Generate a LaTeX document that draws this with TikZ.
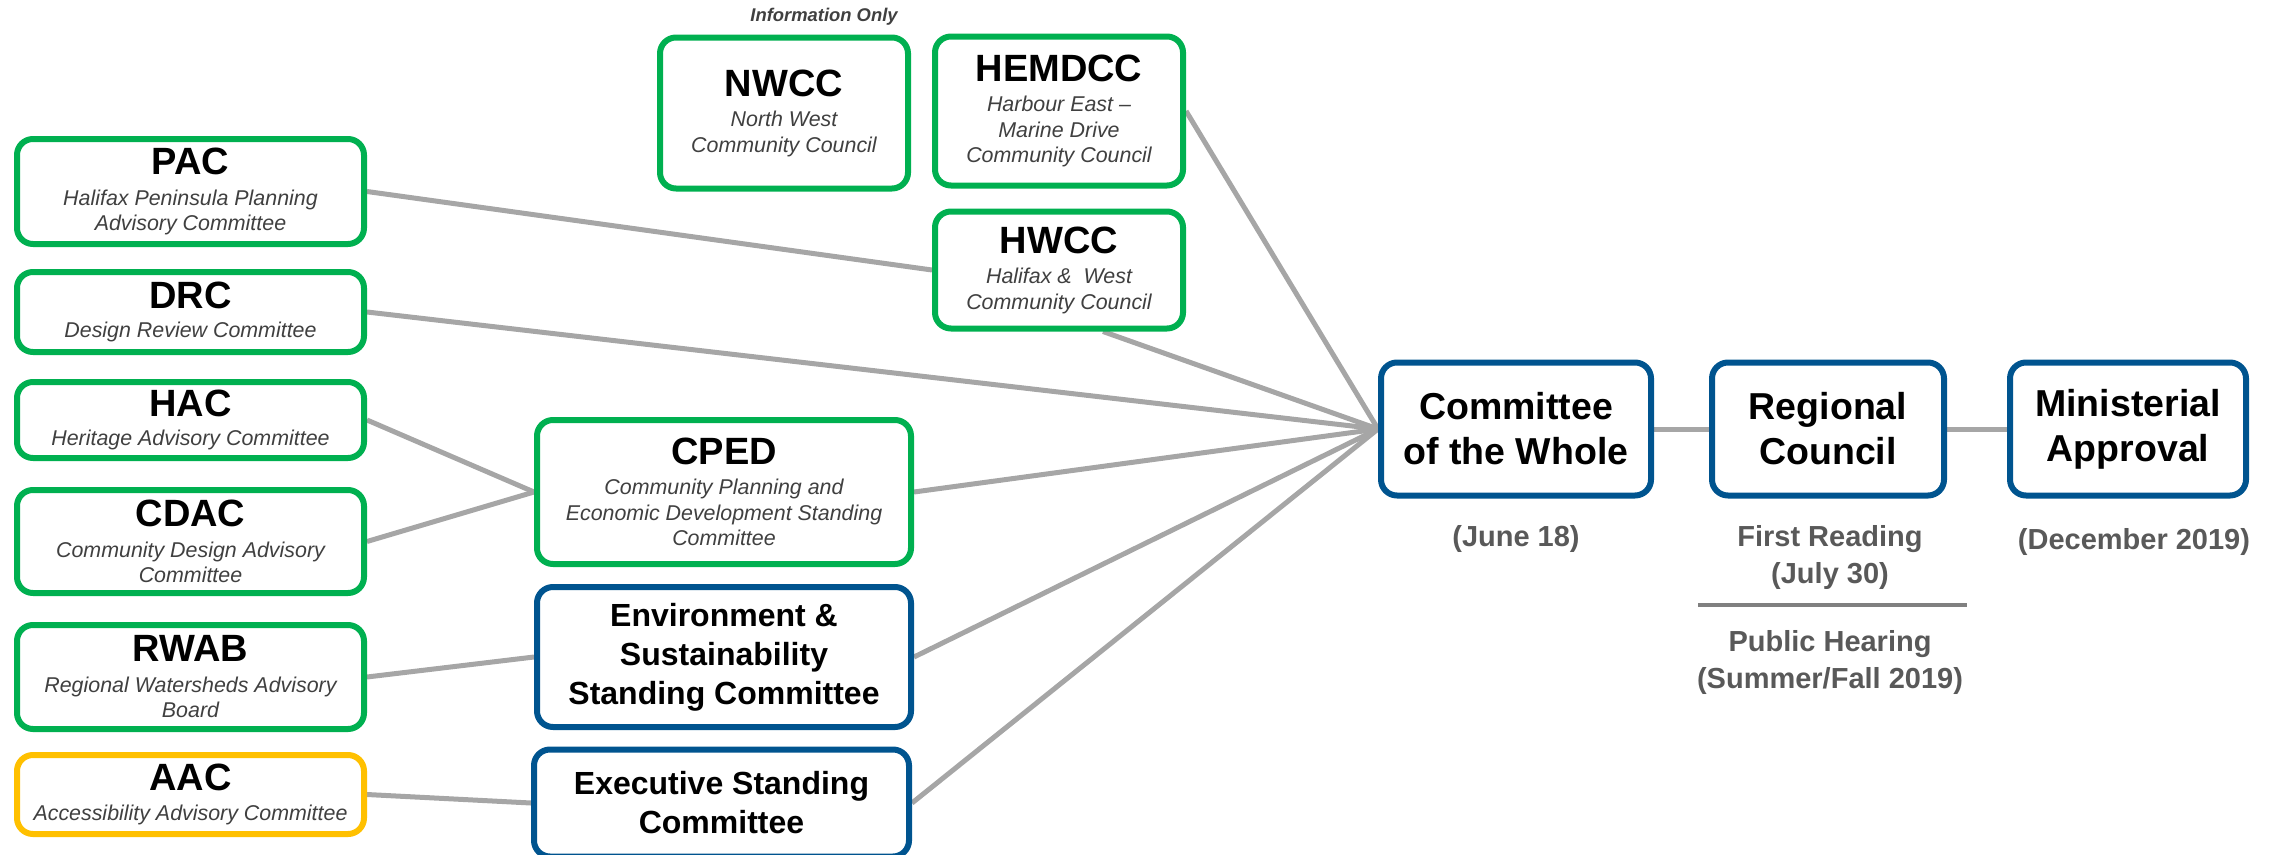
\documentclass[tikz,border=0pt]{standalone}
\usepackage{fontspec}
\setmainfont{Liberation Sans}
\usetikzlibrary{backgrounds}
\definecolor{grn}{HTML}{00B050}
\definecolor{blu}{HTML}{00548F}
\definecolor{ylw}{HTML}{FFC000}
\definecolor{lnk}{HTML}{A6A6A6}
\definecolor{subgray}{HTML}{404040}
\definecolor{dategray}{HTML}{595959}
\definecolor{rulegray}{HTML}{808080}
\newcommand{\acro}[1]{{\fontsize{38}{38}\selectfont\bfseries\upshape\color{black}#1}}
\tikzset{
	box/.style={draw, line width=6pt, rounded corners=16pt, fill=white, align=center, inner sep=0pt},
	grnbox/.style={box, draw=grn, text=subgray, font=\fontsize{21.4}{25.5}\selectfont\itshape},
	ylwbox/.style={grnbox, draw=ylw},
	blubox/.style={box, draw=blu, text=black, font=\fontsize{32}{39}\selectfont\bfseries},
	stagebox/.style={box, draw=blu, text=black, font=\fontsize{37.5}{45}\selectfont\bfseries},
	datetxt/.style={text=dategray, align=center, font=\fontsize{29}{37}\selectfont\bfseries},
	link/.style={draw=lnk, line width=5pt}
}

\begin{document}
\begin{tikzpicture}[x=1pt, y=-1pt]
		\useasboundingbox (0,0) rectangle (2275,854);

		\node (info) [text=subgray, font=\fontsize{18.4}{18.4}\selectfont\bfseries\itshape] at (824,17) {Information Only};
		\node (nwcc) [grnbox, minimum width=248, minimum height=151] at (784,113) {\acro{NWCC}\\[5pt]North West\\Community Council};
		\node (hemdcc) [grnbox, minimum width=248, minimum height=149] at (1059,111) {\acro{HEMDCC}\\[5pt]Harbour East --\\Marine Drive\\Community Council};
		\node (hwcc) [grnbox, minimum width=248, minimum height=117] at (1059,270) {\acro{HWCC}\\[5pt]Halifax \&\ \ West\\Community Council};

		\node (pac) [grnbox, minimum width=347, minimum height=105] at (190.5,191.5) {\acro{PAC}\\[5pt]Halifax Peninsula Planning\\Advisory Committee};
		\node (drc) [grnbox, minimum width=347, minimum height=80] at (190.5,312) {\acro{DRC}\\[3pt]Design Review Committee};
		\node (hac) [grnbox, minimum width=347, minimum height=76] at (190.5,420) {\acro{HAC}\\[3pt]Heritage Advisory Committee};
		\node (cdac) [grnbox, minimum width=347, minimum height=103] at (190.5,541.5) {\acro{CDAC}\\[5pt]Community Design Advisory\\Committee};
		\node (rwab) [grnbox, minimum width=347, minimum height=104] at (190.5,677) {\acro{RWAB}\\[5pt]Regional Watersheds Advisory\\Board};
		\node (aac) [ylwbox, minimum width=347, minimum height=79] at (190.5,794.5) {\acro{AAC}\\[4pt]Accessibility Advisory Committee};

		\node (cped) [grnbox, minimum width=374, minimum height=144] at (724,492) {\acro{CPED}\\[5pt]Community Planning and\\Economic Development Standing\\Committee};
		\node (esc) [blubox, minimum width=374, minimum height=140] at (724,657) {Environment \&\\Sustainability\\Standing Committee};
		\node (exec) [blubox, minimum width=375, minimum height=107] at (721.5,803) {Executive Standing\\Committee};

		\node (cotw) [stagebox, minimum width=270, minimum height=133] at (1516,429) {Committee\\of the Whole};
		\node (rc) [stagebox, minimum width=232, minimum height=133] at (1828,429) {Regional\\Council};
		\node (ma) [stagebox, minimum width=236, minimum height=133] at (2128,429) {Ministerial\\Approval};

		\node (d1) [datetxt] at (1516,539) {(June 18)};
		\node (d2) [datetxt] at (1830,557) {First Reading\\(July 30)};
		\node (d3) [datetxt] at (1830,662) {Public Hearing\\(Summer/Fall 2019)};
		\node (d4) [datetxt] at (2134,542) {(December 2019)};
		\draw[rulegray, line width=4pt] (1698,605) -- (1967,605);

		\begin{scope}[on background layer]
			\draw[link] (pac.east) -- (hwcc.west);
			\draw[link] (hemdcc.east) -- (cotw.west);
			\draw[link] ([xshift=44pt]hwcc.south) -- (cotw.west);
			\draw[link] (drc.east) -- (cotw.west);
			\draw[link] (cped.east) -- (cotw.west);
			\draw[link] (esc.east) -- (cotw.west);
			\draw[link] (exec.east) -- (cotw.west);
			\draw[link] (hac.east) -- (cped.west);
			\draw[link] (cdac.east) -- (cped.west);
			\draw[link] (rwab.east) -- (esc.west);
			\draw[link] (aac.east) -- (exec.west);
			\draw[link] (cotw.east) -- (rc.west);
			\draw[link] (rc.east) -- (ma.west);
		\end{scope}
	\end{tikzpicture}
\end{document}
